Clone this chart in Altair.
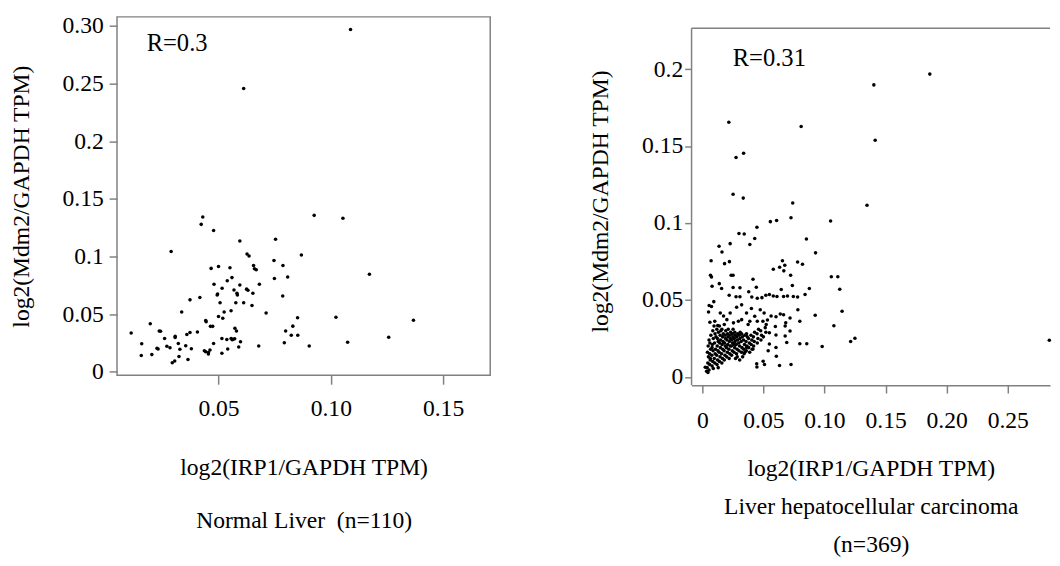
import altair as alt
import pandas as pd

FONT = "Liberation Serif"
GRAY = "#808080"

# ---------------- data: Normal liver (n=110) ----------------
normal_points = [
    (0.1088, 0.297), (0.0612, 0.2458), (0.0926, 0.1358), (0.1054, 0.1333), (0.043, 0.1344),
    (0.0423, 0.128), (0.0478, 0.1227), (0.0289, 0.1045), (0.0595, 0.1136), (0.0754, 0.1151),
    (0.0627, 0.1023), (0.0636, 0.1006), (0.0869, 0.1014), (0.1172, 0.0847), (0.0467, 0.0898),
    (0.05, 0.0915), (0.0551, 0.0904), (0.0656, 0.0923), (0.066, 0.0895), (0.0668, 0.0887),
    (0.0747, 0.0966), (0.0787, 0.0923), (0.0749, 0.081), (0.0808, 0.0824), (0.056, 0.0818),
    (0.0539, 0.079), (0.048, 0.0761), (0.0682, 0.0761), (0.0496, 0.0676), (0.0494, 0.0668),
    (0.0516, 0.0725), (0.0569, 0.071), (0.0582, 0.0682), (0.0584, 0.0668), (0.0595, 0.0753),
    (0.0625, 0.0718), (0.0631, 0.0708), (0.0653, 0.0682), (0.0786, 0.0659), (0.0417, 0.0645),
    (0.0373, 0.0625), (0.0507, 0.0599), (0.0577, 0.0599), (0.0612, 0.0599), (0.0649, 0.0576),
    (0.0336, 0.052), (0.0525, 0.052), (0.0556, 0.0531), (0.0712, 0.0511), (0.05, 0.048),
    (0.0519, 0.0465), (0.1023, 0.0474), (0.0852, 0.0469), (0.1368, 0.0448), (0.0443, 0.0446),
    (0.0445, 0.0435), (0.0196, 0.0418), (0.0464, 0.0395), (0.0474, 0.0395), (0.0831, 0.0397),
    (0.0573, 0.0378), (0.058, 0.0355), (0.0236, 0.0355), (0.0242, 0.0352), (0.0799, 0.0355),
    (0.0406, 0.0346), (0.0373, 0.0341), (0.0111, 0.0338), (0.0359, 0.0324), (0.0824, 0.0318),
    (0.0853, 0.0318), (0.1258, 0.0301), (0.0307, 0.031), (0.0307, 0.0298), (0.026, 0.029),
    (0.0556, 0.029), (0.0565, 0.0283), (0.0572, 0.0287), (0.0561, 0.0279), (0.0158, 0.0244),
    (0.0321, 0.0247), (0.0793, 0.0252), (0.1075, 0.0258), (0.0598, 0.0261), (0.0354, 0.0227),
    (0.027, 0.0222), (0.0284, 0.021), (0.0537, 0.0281), (0.0515, 0.029), (0.0679, 0.0224),
    (0.0904, 0.0224), (0.059, 0.0216), (0.0231, 0.0199), (0.0328, 0.0196), (0.0379, 0.0201),
    (0.0437, 0.0183), (0.0443, 0.0175), (0.0455, 0.0169), (0.0462, 0.019), (0.0541, 0.0199),
    (0.0156, 0.0142), (0.0203, 0.015), (0.0324, 0.0133), (0.0515, 0.0162), (0.0364, 0.0108),
    (0.0294, 0.0079), (0.0305, 0.0094), (0.0478, 0.0247), (0.0455, 0.0156), (0.0226, 0.0205),
]

# ---------------- data: Liver hepatocellular carcinoma (n=369) ----------------
hcc_points = [
    (0.1862, 0.1968), (0.1404, 0.1898), (0.1415, 0.1538), (0.0217, 0.1655), (0.0809, 0.1628),
    (0.0276, 0.1426), (0.0338, 0.1453), (0.0252, 0.1187), (0.0335, 0.1162), (0.1348, 0.1115),
    (0.074, 0.113), (0.0726, 0.1034), (0.0557, 0.1009), (0.0608, 0.1017), (0.105, 0.1013),
    (0.0447, 0.0972), (0.03, 0.0932), (0.0343, 0.0928), (0.0429, 0.09), (0.0852, 0.0896),
    (0.0137, 0.0849), (0.0228, 0.0866), (0.0161, 0.0811), (0.0389, 0.086), (0.0927, 0.0806),
    (0.0072, 0.0755), (0.0182, 0.0736), (0.0222, 0.0749), (0.0656, 0.0755), (0.0633, 0.0713),
    (0.0675, 0.0726), (0.0667, 0.0689), (0.0581, 0.07), (0.078, 0.0747), (0.082, 0.0732),
    (0.0723, 0.066), (0.0067, 0.066), (0.0075, 0.0649), (0.0236, 0.066), (0.0252, 0.066),
    (0.0415, 0.0634), (0.1056, 0.0651), (0.1109, 0.0651), (0.1125, 0.057), (0.008, 0.0589),
    (0.0139, 0.0606), (0.0158, 0.0574), (0.0252, 0.0581), (0.0308, 0.0579), (0.0442, 0.0583),
    (0.038, 0.0553), (0.0737, 0.0594), (0.0876, 0.0574), (0.022, 0.053), (0.0276, 0.0521),
    (0.0308, 0.0521), (0.0405, 0.0519), (0.045, 0.0511), (0.0488, 0.0515), (0.052, 0.053),
    (0.0549, 0.0536), (0.0581, 0.0526), (0.0611, 0.0523), (0.0646, 0.0568), (0.0665, 0.0523),
    (0.0697, 0.0526), (0.0745, 0.0523), (0.078, 0.0519), (0.0841, 0.0536), (0.0056, 0.0464),
    (0.0075, 0.0457), (0.0094, 0.0489), (0.0147, 0.0415), (0.0174, 0.0396), (0.0201, 0.0372),
    (0.0228, 0.0415), (0.0281, 0.0453), (0.0322, 0.0468), (0.0362, 0.0415), (0.0402, 0.0445),
    (0.0429, 0.0394), (0.045, 0.0362), (0.0474, 0.0436), (0.0506, 0.0415), (0.0533, 0.037),
    (0.0563, 0.0396), (0.0603, 0.0391), (0.0638, 0.0409), (0.0665, 0.0404), (0.0683, 0.0351),
    (0.0718, 0.0383), (0.0782, 0.0436), (0.0798, 0.0362), (0.0924, 0.04), (0.1144, 0.0426),
    (0.1077, 0.0332), (0.0051, 0.0421), (0.0062, 0.0355), (0.0102, 0.0362), (0.0126, 0.0334),
    (0.0255, 0.0351), (0.0295, 0.0362), (0.0322, 0.0372), (0.0375, 0.034), (0.0389, 0.0362),
    (0.0496, 0.0362), (0.0523, 0.034), (0.0549, 0.0287), (0.0598, 0.0328), (0.0603, 0.0272),
    (0.0678, 0.033), (0.0718, 0.0298), (0.0678, 0.0266), (0.0691, 0.0223), (0.0798, 0.0215),
    (0.0855, 0.0215), (0.0981, 0.0198), (0.1214, 0.023), (0.1249, 0.0251), (0.0632, 0.0074),
    (0.0726, 0.0081), (0.0445, 0.0085), (0.0447, 0.0064), (0.0498, 0.0102), (0.0509, 0.0081),
    (0.0024, 0.0062), (0.0035, 0.0036), (0.0046, 0.0028), (0.284, 0.0238), (0.0348, 0.016),
    (0.0362, 0.0191), (0.0415, 0.0181), (0.0539, 0.017), (0.0603, 0.0191), (0.0606, 0.0134),
    (0.0549, 0.0213), (0.0055, 0.0045), (0.009, 0.0055), (0.013, 0.006),
    (0.004, 0.006), (0.0045, 0.009), (0.005, 0.013), (0.0042, 0.016), (0.0048, 0.02), (0.0055, 0.024),
    (0.006, 0.008), (0.0065, 0.011), (0.006, 0.015), (0.0068, 0.018), (0.0062, 0.022), (0.007, 0.027),
    (0.0066, 0.012), (0.008, 0.007), (0.0085, 0.01), (0.0078, 0.014), (0.0088, 0.017), (0.0082, 0.021),
    (0.009, 0.025), (0.0086, 0.03), (0.008, 0.019), (0.0102, 0.009), (0.0098, 0.012), (0.0105, 0.015),
    (0.0108, 0.018), (0.01, 0.022), (0.0112, 0.026), (0.0104, 0.028), (0.0096, 0.033), (0.012, 0.008),
    (0.0125, 0.011), (0.0118, 0.014), (0.0128, 0.017), (0.0122, 0.02), (0.013, 0.023), (0.0124, 0.025),
    (0.0132, 0.029), (0.0119, 0.031), (0.014, 0.01), (0.0145, 0.013), (0.0138, 0.016), (0.0148, 0.019),
    (0.0142, 0.022), (0.015, 0.024), (0.0146, 0.027), (0.0152, 0.03), (0.014, 0.033), (0.016, 0.009),
    (0.0165, 0.012), (0.0158, 0.015), (0.0168, 0.018), (0.0162, 0.021), (0.017, 0.023), (0.0166, 0.026),
    (0.0172, 0.028), (0.016, 0.031), (0.018, 0.011), (0.0185, 0.014), (0.0178, 0.017), (0.0188, 0.02),
    (0.0182, 0.022), (0.019, 0.025), (0.0186, 0.027), (0.0192, 0.03), (0.018, 0.034), (0.02, 0.013),
    (0.0205, 0.016), (0.0198, 0.019), (0.0208, 0.021), (0.0202, 0.024), (0.021, 0.026), (0.0206, 0.028),
    (0.0212, 0.031), (0.022, 0.012), (0.0225, 0.015), (0.0218, 0.018), (0.0228, 0.02), (0.0222, 0.023),
    (0.023, 0.025), (0.0226, 0.027), (0.0232, 0.029), (0.024, 0.014), (0.0245, 0.017), (0.0238, 0.02),
    (0.0248, 0.022), (0.0242, 0.024), (0.025, 0.026), (0.0246, 0.028), (0.0252, 0.031), (0.026, 0.016),
    (0.0265, 0.019), (0.0258, 0.021), (0.0268, 0.023), (0.0262, 0.025), (0.027, 0.027), (0.0266, 0.029),
    (0.0272, 0.012), (0.028, 0.015), (0.0285, 0.018), (0.0278, 0.021), (0.0288, 0.024), (0.0282, 0.026),
    (0.029, 0.028), (0.0286, 0.013), (0.03, 0.017), (0.0305, 0.02), (0.0298, 0.022), (0.0308, 0.025),
    (0.0302, 0.027), (0.031, 0.029), (0.0306, 0.011), (0.032, 0.016), (0.0325, 0.019), (0.0318, 0.023),
    (0.0328, 0.026), (0.0322, 0.028), (0.033, 0.013), (0.034, 0.018), (0.0345, 0.021), (0.0338, 0.024),
    (0.0348, 0.027), (0.0342, 0.015), (0.036, 0.017), (0.0365, 0.02), (0.0358, 0.023), (0.0368, 0.026),
    (0.0362, 0.028), (0.038, 0.019), (0.0385, 0.022), (0.0378, 0.025), (0.0388, 0.016), (0.04, 0.021),
    (0.0405, 0.024), (0.0398, 0.027), (0.0408, 0.018), (0.042, 0.02), (0.0425, 0.023), (0.0418, 0.026),
    (0.0428, 0.029), (0.045, 0.022), (0.0455, 0.025), (0.0448, 0.028), (0.046, 0.031), (0.048, 0.024),
    (0.0485, 0.027), (0.0478, 0.03), (0.05, 0.026), (0.052, 0.029), (0.0515, 0.032),
]

# ---------------- axes, labels, annotations ----------------
left_x_domain = [0.0048, 0.171]
left_y_domain = [-0.003, 0.308]
left_x_ticks = [0.05, 0.10, 0.15]
left_x_labels = ["0.05", "0.10", "0.15"]
left_y_ticks = [0, 0.05, 0.1, 0.15, 0.2, 0.25, 0.3]
left_y_labels = ["0", "0.05", "0.1", "0.15", "0.2", "0.25", "0.30"]

right_x_domain = [-0.0088, 0.2846]
right_y_domain = [-0.0054, 0.234]
right_frame_top = 0.2266          # top edge of the (right-open) frame box
right_x_ticks = [0, 0.05, 0.10, 0.15, 0.20, 0.25]
right_x_labels = ["0", "0.05", "0.10", "0.15", "0.20", "0.25"]
right_y_ticks = [0, 0.05, 0.1, 0.15, 0.2]
right_y_labels = ["0", "0.05", "0.1", "0.15", "0.2"]

y_title = "log2(Mdm2/GAPDH TPM)"
x_title = "log2(IRP1/GAPDH TPM)"
left_group = ["Normal Liver\u00a0 (n=110)"]
right_group = ["Liver hepatocellular carcinoma", "(n=369)"]

left_note = pd.DataFrame({"x": [0.018], "y": [0.285], "t": ["R=0.3"]})
right_note = pd.DataFrame({"x": [0.0249], "y": [0.2074], "t": ["R=0.31"]})


def label_expr(ticks, labels):
    parts = [f"abs(datum.value - {t}) < 1e-6 ? '{l}'" for t, l in zip(ticks, labels)]
    return " : ".join(parts) + " : datum.label"


left_df = pd.DataFrame(normal_points, columns=["x", "y"])
right_df = pd.DataFrame(hcc_points, columns=["x", "y"])

# ---------------- left panel ----------------
lxs = alt.Scale(domain=left_x_domain, nice=False, zero=False)
lys = alt.Scale(domain=left_y_domain, nice=False, zero=False)
lxa = alt.Axis(
    values=left_x_ticks, labelExpr=label_expr(left_x_ticks, left_x_labels),
    title=[x_title] + left_group, titleLineHeight=54, titlePadding=36,
    tickSize=9, labelPadding=13, domain=False, labelFlush=False)
lya = alt.Axis(
    values=left_y_ticks, labelExpr=label_expr(left_y_ticks, left_y_labels),
    title=y_title, titlePadding=29, tickSize=8, labelPadding=6, domain=False,
    labelFlush=False)

left_pts = alt.Chart(left_df).mark_circle(size=13, color="black", opacity=1).encode(
    x=alt.X("x:Q", scale=lxs, axis=lxa),
    y=alt.Y("y:Q", scale=lys, axis=lya),
)
left_txt = alt.Chart(left_note).mark_text(
    align="left", baseline="middle", font=FONT, fontSize=25, color="black"
).encode(
    x=alt.X("x:Q", scale=lxs, axis=lxa),
    y=alt.Y("y:Q", scale=lys, axis=lya),
    text="t:N",
)
left = alt.layer(left_pts, left_txt).properties(width=380, height=365)

# ---------------- right panel ----------------
rxs = alt.Scale(domain=right_x_domain, nice=False, zero=False)
rys = alt.Scale(domain=right_y_domain, nice=False, zero=False)
rxa = alt.Axis(
    values=right_x_ticks, labelExpr=label_expr(right_x_ticks, right_x_labels),
    title=[x_title] + right_group, titleLineHeight=38.5, titlePadding=25,
    tickSize=8, labelPadding=16, domain=True, labelFlush=False)
rya = alt.Axis(
    values=right_y_ticks, labelExpr=label_expr(right_y_ticks, right_y_labels),
    title=y_title, titlePadding=30, tickSize=7, labelPadding=2, domain=False,
    labelFlush=False)

right_pts = alt.Chart(right_df).mark_circle(size=13, color="black", opacity=1).encode(
    x=alt.X("x:Q", scale=rxs, axis=rxa),
    y=alt.Y("y:Q", scale=rys, axis=rya),
)
right_txt = alt.Chart(right_note).mark_text(
    align="left", baseline="middle", font=FONT, fontSize=25, color="black"
).encode(
    x=alt.X("x:Q", scale=rxs, axis=rxa),
    y=alt.Y("y:Q", scale=rys, axis=rya),
    text="t:N",
)
# frame edges of the right panel (top and left), in data coordinates
frame_top = pd.DataFrame({"x": [right_x_domain[0]], "x2": [right_x_domain[1]],
                          "y": [right_frame_top]})
frame_left = pd.DataFrame({"x": [right_x_domain[0]], "y": [right_y_domain[0]],
                           "y2": [right_frame_top]})
right_top = alt.Chart(frame_top).mark_rule(color=GRAY, strokeWidth=1.5).encode(
    x=alt.X("x:Q", scale=rxs, axis=rxa), x2="x2:Q",
    y=alt.Y("y:Q", scale=rys, axis=rya),
)
right_left = alt.Chart(frame_left).mark_rule(color=GRAY, strokeWidth=1.5).encode(
    x=alt.X("x:Q", scale=rxs, axis=rxa),
    y=alt.Y("y:Q", scale=rys, axis=rya), y2="y2:Q",
)
right = alt.layer(right_top, right_left, right_pts, right_txt).properties(
    width=365, height=375,
    view=alt.ViewBackground(stroke="transparent"),
)

chart = alt.hconcat(left, right, spacing=98).properties(
    padding={"left": 1, "top": 0, "right": 0, "bottom": 0},
).configure_view(
    stroke=GRAY, strokeWidth=1.5,
).configure_axis(
    labelFont=FONT, titleFont=FONT, labelFontSize=24, titleFontSize=24,
    labelColor="black", titleColor="black", titleFontWeight="normal",
    domainColor=GRAY, domainWidth=1.5, tickColor=GRAY, tickWidth=1.5, grid=False,
).configure_title(font=FONT)

chart.save("out.html", embed_options={"renderer": "svg", "actions": False})
